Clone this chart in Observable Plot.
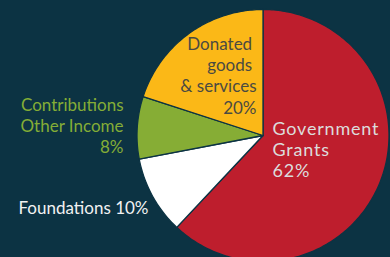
<!DOCTYPE html>
<html>
<head>
<meta charset="utf-8">
<script src="https://cdn.jsdelivr.net/npm/d3@7"></script>
<script src="https://cdn.jsdelivr.net/npm/@observablehq/plot@0.6"></script>
<style>
  html, body { margin: 0; padding: 0; background: #0c3343; overflow: hidden; }
  #chart svg { display: block; }
</style>
</head>
<body>
<div id="chart"></div>
<script>
// ---- data ----
const categories = ["Government Grants", "Foundations", "Contributions Other Income", "Donated goods & services"];
const values = [62, 10, 8, 20];
const sliceColors = ["#be1e2d", "#ffffff", "#86ad35", "#fbb817"];
const labelTexts = [
  "Government\nGrants\n62%",
  "Foundations 10%",
  "Contributions\nOther Income\n8%",
  "Donated\u00a0\ngoods\u00a0\n& services\n20%"
];
const labelColors = ["#dcdcdc", "#f2f2f2", "#84ad36", "#4a4a42"];

// ---- layout ----
const W = 390, H = 257;
const cx = 262.5, cy = 135, R = 126;
const toX = px => (px - cx) / R;
const toY = py => (cy - py) / R;
// label anchor (pixel x, first baseline) and typography
const labelLayout = [
  {px: 272, base: 134, anchor: "start", fs: 18, lh: 1.19, ls: 0.8},
  {px: 18, base: 213, anchor: "start", fs: 17, lh: 1.26, ls: 0},
  {px: 123, base: 110, anchor: "end", fs: 17, lh: 1.25, ls: 0},
  {px: 256, base: 49, anchor: "end", fs: 17, lh: 1.26, ls: 0}
];

const rows = categories.map((c, i) => ({cat: c, value: values[i]}));
const arcs = d3.pie().sort(null).value(d => d.value)(rows);

// build slice outlines from the pie angles
const pts = [];
arcs.forEach(a => {
  pts.push({cat: a.data.cat, x: 0, y: 0});
  const n = Math.max(2, Math.ceil((a.endAngle - a.startAngle) / (Math.PI / 180)));
  for (let k = 0; k <= n; k++) {
    const t = a.startAngle + (a.endAngle - a.startAngle) * k / n;
    pts.push({cat: a.data.cat, x: Math.sin(t), y: Math.cos(t)});
  }
});

const textMarks = categories.map((c, i) => {
  const L = labelLayout[i];
  const top = L.base - 0.71 * L.lh * L.fs;
  return Plot.text([{text: labelTexts[i]}], {
    x: () => toX(L.px), y: () => toY(top), text: "text",
    fill: labelColors[i], textAnchor: L.anchor, lineAnchor: "top",
    lineHeight: L.lh, fontSize: L.fs,
    style: L.ls ? `letter-spacing:${L.ls}px` : undefined
  });
});

const plot = Plot.plot({
  width: W, height: H,
  margin: 0,
  style: {background: "#0c3343", fontFamily: "Lato, sans-serif"},
  x: {domain: [toX(0), toX(W)], axis: null},
  y: {domain: [toY(H), toY(0)], axis: null},
  color: {domain: categories, range: sliceColors},
  marks: [
    Plot.line(pts, {x: "x", y: "y", z: "cat", fill: "cat", stroke: "#0c3343", strokeWidth: 1.3, curve: "linear-closed"}),
    ...textMarks
  ]
});
// letter spacing for the Government label
plot.querySelectorAll("text").forEach(t => {
  if (t.textContent.startsWith("Government")) t.setAttribute("letter-spacing", "0.8");
});
document.getElementById("chart").appendChild(plot);
</script>
</body>
</html>
